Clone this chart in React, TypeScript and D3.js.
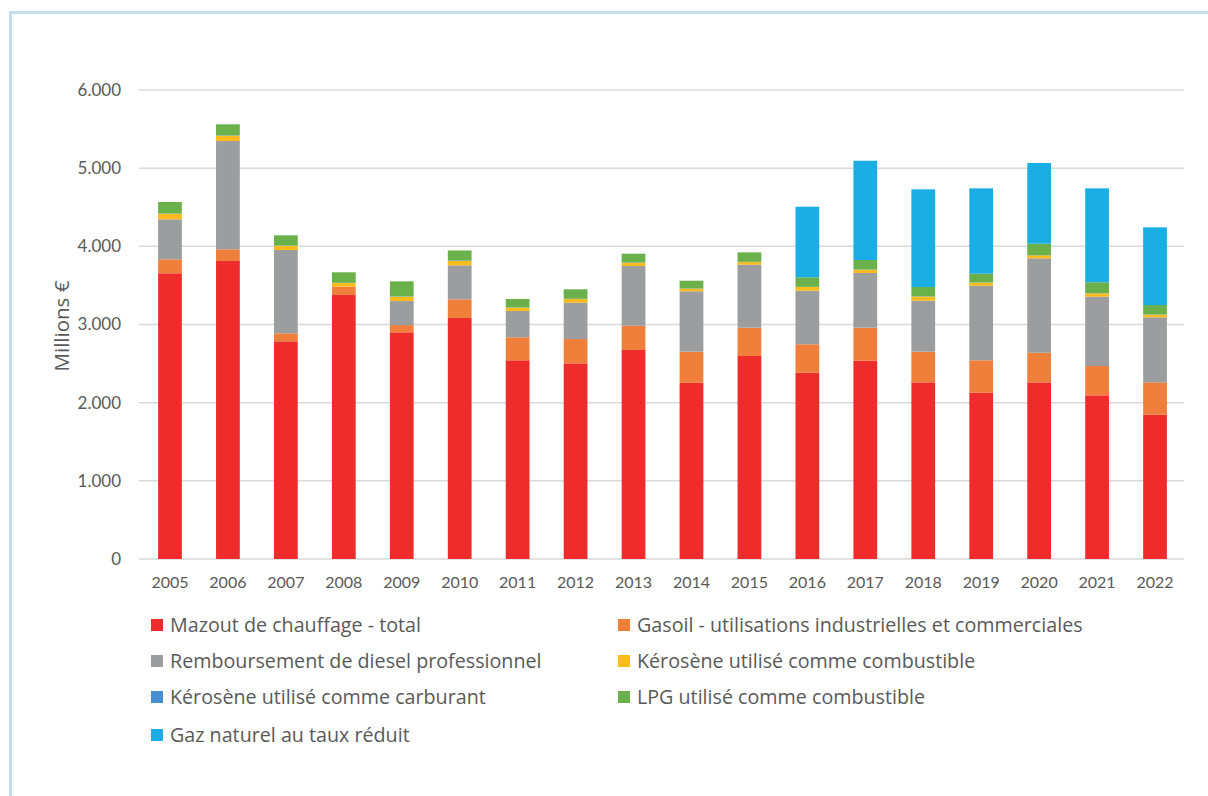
import React from "react";
import * as d3 from "d3";

const years = ["2005","2006","2007","2008","2009","2010","2011","2012","2013","2014","2015","2016","2017","2018","2019","2020","2021","2022"];
const mazout = [3655,3812,2785,3377,2900,3083,2542,2503,2674,2255,2597,2383,2537,2260,2127,2260,2094,1846];
const gasoil = [179,150,102,107,93,239,294,311,311,397,362,364,422,392,415,379,375,414];
const diesel = [512,1385,1066,0,307,435,337,465,763,773,806,685,700,652,954,1208,887,832];
const keroCombustible = [71,68,55,47,56,55,42,47,42,33,34,48,42,52,39,38,43,33];
const keroCarburant = [4,4,4,3,3,6,3,3,3,3,3,2,2,2,2,2,2,2];
const lpg = [146,142,129,134,193,129,108,121,113,99,121,122,122,122,113,147,139,122];
const gazNaturel = [0,0,0,0,0,0,0,0,0,0,0,903,1270,1249,1092,1032,1202,994];
const yTicks = [0,1000,2000,3000,4000,5000,6000];

const seriesNames = [
  "Mazout de chauffage - total",
  "Gasoil - utilisations industrielles et commerciales",
  "Remboursement de diesel professionnel",
  "Kérosène utilisé comme combustible",
  "Kérosène utilisé comme carburant",
  "LPG utilisé comme combustible",
  "Gaz naturel au taux réduit",
];
const seriesValues = [mazout, gasoil, diesel, keroCombustible, keroCarburant, lpg, gazNaturel];
const colors = ["#EE2C2C", "#F07F3B", "#9B9D9E", "#FDBB1E", "#4A8ED2", "#6AB04B", "#1AAEE4"];

const FONT = "Lato, 'Open Sans', sans-serif";
const LFONT = "'Open Sans', Lato, sans-serif";

export default function App() {
  const W = 1208, H = 796;
  const left = 141, right = 1184, top = 90, bottom = 559;
  const x = d3.scaleBand<string>().domain(years).range([left, right]).paddingInner(0.59).paddingOuter(0.295);
  const y = d3.scaleLinear().domain([0, 6000]).range([bottom, top]);
  const rows = years.map((yr, i) => {
    const r: any = { year: yr };
    seriesNames.forEach((n, k) => (r[n] = seriesValues[k][i]));
    return r;
  });
  const stacked = d3.stack<any>().keys(seriesNames)(rows);
  const fmt = (v: number) => d3.format(",")(v).replace(/,/g, ".");

  const legendPos = [
    [151, 625], [618, 625],
    [151, 661], [618, 661],
    [151, 697], [618, 697],
    [151, 735],
  ];

  return (
    <svg width={W} height={H} style={{ display: "block", position: "absolute", left: 0, top: 0 }}>
      <rect x={0} y={0} width={W} height={H} fill="#fff" />
      <rect x={10.5} y={12.5} width={W + 20} height={H + 20} fill="none" stroke="#C2DFEB" strokeWidth={3} />
      {yTicks.map((t) => (
        <g key={t}>
          <line x1={left - 2} x2={right} y1={y(t)} y2={y(t)} stroke="#D9D9D9" strokeWidth={1.5} />
          <text x={121} y={y(t)} dy="0.35em" textAnchor="end" fontFamily={FONT} fontSize={17} fill="#595959">
            {fmt(t)}
          </text>
        </g>
      ))}
      {stacked.map((s, k) => (
        <g key={s.key} fill={colors[k]}>
          {s.map((d, i) => {
            const h = y(d[0]) - y(d[1]);
            if (h <= 0) return null;
            return <rect key={i} x={x(years[i])} y={y(d[1])} width={x.bandwidth()} height={h} />;
          })}
        </g>
      ))}
      {years.map((yr) => (
        <text key={yr} x={(x(yr) as number) + x.bandwidth() / 2} y={582} dy="0.35em" textAnchor="middle" fontFamily={FONT} fontSize={16} fill="#595959">
          {yr}
        </text>
      ))}
      <text transform={`translate(62,326) rotate(-90)`} textAnchor="middle" dy="0.35em" fontFamily={LFONT} fontSize={20.5} fill="#595959">
        Millions €
      </text>
      {seriesNames.map((n, k) => (
        <g key={n} transform={`translate(${legendPos[k][0]},${legendPos[k][1]})`}>
          <rect x={0} y={-6} width={12} height={12} fill={colors[k]} />
          <text x={19} y={0} dy="0.35em" fontFamily={LFONT} fontSize={19.7} fill="#595959">
            {n}
          </text>
        </g>
      ))}
    </svg>
  );
}
